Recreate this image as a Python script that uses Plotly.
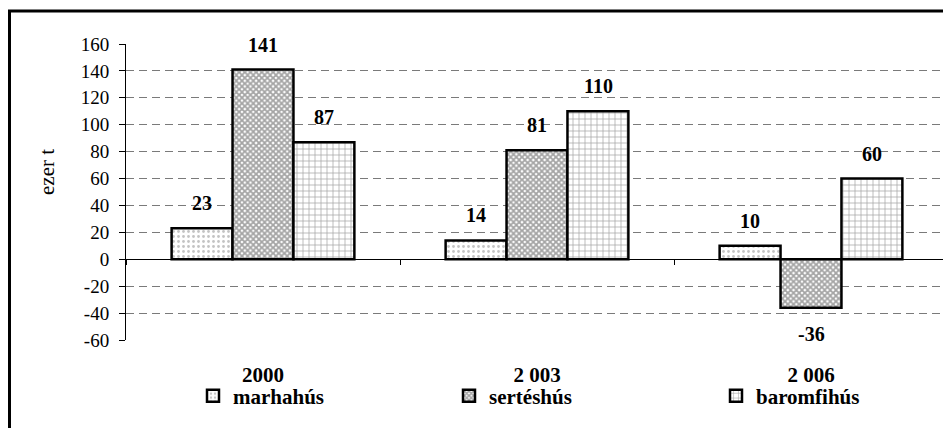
import plotly.graph_objects as go

categories = ["2000", "2 003", "2 006"]
series_names = ["marhahús", "sertéshús", "baromfihús"]
marhahus = [23, 14, 10]
serteshus = [141, 81, -36]
baromfihus = [87, 110, 60]
y_ticks = list(range(-60, 161, 20))
y_tick_labels = [str(v) for v in y_ticks]

series_values = [marhahus, serteshus, baromfihus]
patterns = [
    dict(shape=".", size=5, solidity=0.25, fgcolor="#888888", bgcolor="white"),
    dict(shape="x", size=4, solidity=0.7, fgcolor="#4a4a4a", bgcolor="white"),
    dict(shape="+", size=6, solidity=0.22, fgcolor="#444444", bgcolor="white"),
]

FONT = "'Liberation Serif', 'Times New Roman', Times, 'DejaVu Serif', serif"
OFF = 8  # page body margin
L, R, T, B = 126 - OFF, 3, 44 - OFF, 88
W, H = 951 - OFF, 428 - OFF
PW, PH = W - L - R, H - T - B

def px_x(p):
    return (p - OFF - L) / PW

def px_y(p):
    return 1 - (p - OFF - T) / PH

legend_ids = ["legend", "legend2", "legend3"]
legend_sym_px = [213, 469, 736]

fig = go.Figure()
for name, vals, pat, lid in zip(series_names, series_values, patterns, legend_ids):
    fig.add_trace(go.Bar(
        x=categories, y=vals, name=name, legend=lid,
        marker=dict(color="white", pattern=pat, line=dict(color="black", width=2.5)),
        xaxis="x", yaxis="y",
    ))

# data labels
offsets = [-61, 0, 61]
for vals, xs in zip(series_values, offsets):
    for i, v in enumerate(vals):
        fig.add_annotation(x=i, y=v, text=f"<b>{v}</b>", showarrow=False,
                           xshift=xs, yshift=25 if v >= 0 else -26,
                           font=dict(family=FONT, size=20, color="black"))

# second x axis at zero line for boundary ticks
fig.add_trace(go.Scatter(x=categories, y=[0, 0, 0], xaxis="x2", yaxis="y",
                         mode="lines", line=dict(width=0), showlegend=False, hoverinfo="skip"))

zero_pos = (0 - y_ticks[0]) / (y_ticks[-1] - y_ticks[0])
legend_common = dict(orientation="h", xanchor="left", yanchor="middle",
                     y=px_y(396), font=dict(family=FONT, size=21, weight="bold", color="black"),
                     bgcolor="rgba(0,0,0,0)", borderwidth=0)
fig.update_layout(
    width=W, height=H,
    margin=dict(l=L, r=R, t=T, b=B, autoexpand=False),
    paper_bgcolor="white", plot_bgcolor="white",
    barmode="group", bargap=0.333, bargroupgap=0,
    font=dict(family=FONT, size=18, color="black"),
    xaxis=dict(type="category", showline=False, ticks="", showgrid=False, automargin=False,
               tickfont=dict(family=FONT, size=21, weight="bold"), ticklabelstandoff=20,
               range=[-0.5, 2.5]),
    xaxis2=dict(type="category", overlaying="x", matches="x", anchor="free",
                position=zero_pos, side="bottom", showline=True, linecolor="black",
                linewidth=1, ticks="outside", tickson="boundaries", ticklen=5,
                tickcolor="black", showticklabels=False, showgrid=False, automargin=False),
    yaxis=dict(range=[y_ticks[0], y_ticks[-1]], tickvals=y_ticks, ticktext=y_tick_labels,
               showline=True, linecolor="black", linewidth=1, ticks="outside", ticklen=6,
               automargin=False, tickcolor="black", showgrid=True, gridcolor="#7a7a7a",
               gridwidth=1, griddash="8px,5px", zeroline=True, zerolinecolor="black",
               zerolinewidth=1, tickfont=dict(family=FONT, size=19), ticklabelstandoff=6),
    legend=dict(x=px_x(legend_sym_px[0] - 20), **legend_common),
    legend2=dict(x=px_x(legend_sym_px[1] - 20), **legend_common),
    legend3=dict(x=px_x(legend_sym_px[2] - 20), **legend_common),
    showlegend=True,
)
fig.add_annotation(xref="paper", yref="paper", x=px_x(47), y=px_y(172),
                   xanchor="center", yanchor="middle",
                   text="ezer t", textangle=-90, showarrow=False,
                   font=dict(family=FONT, size=21))
# outer frame (left and top edges visible in the crop)
fig.add_shape(type="line", xref="paper", yref="paper",
              x0=px_x(9.5), x1=px_x(9.5), y0=px_y(10), y1=px_y(440),
              line=dict(color="black", width=3))
fig.add_shape(type="line", xref="paper", yref="paper",
              x0=px_x(8), x1=px_x(960), y0=px_y(11), y1=px_y(11),
              line=dict(color="black", width=3))
fig.write_html("out.html")
